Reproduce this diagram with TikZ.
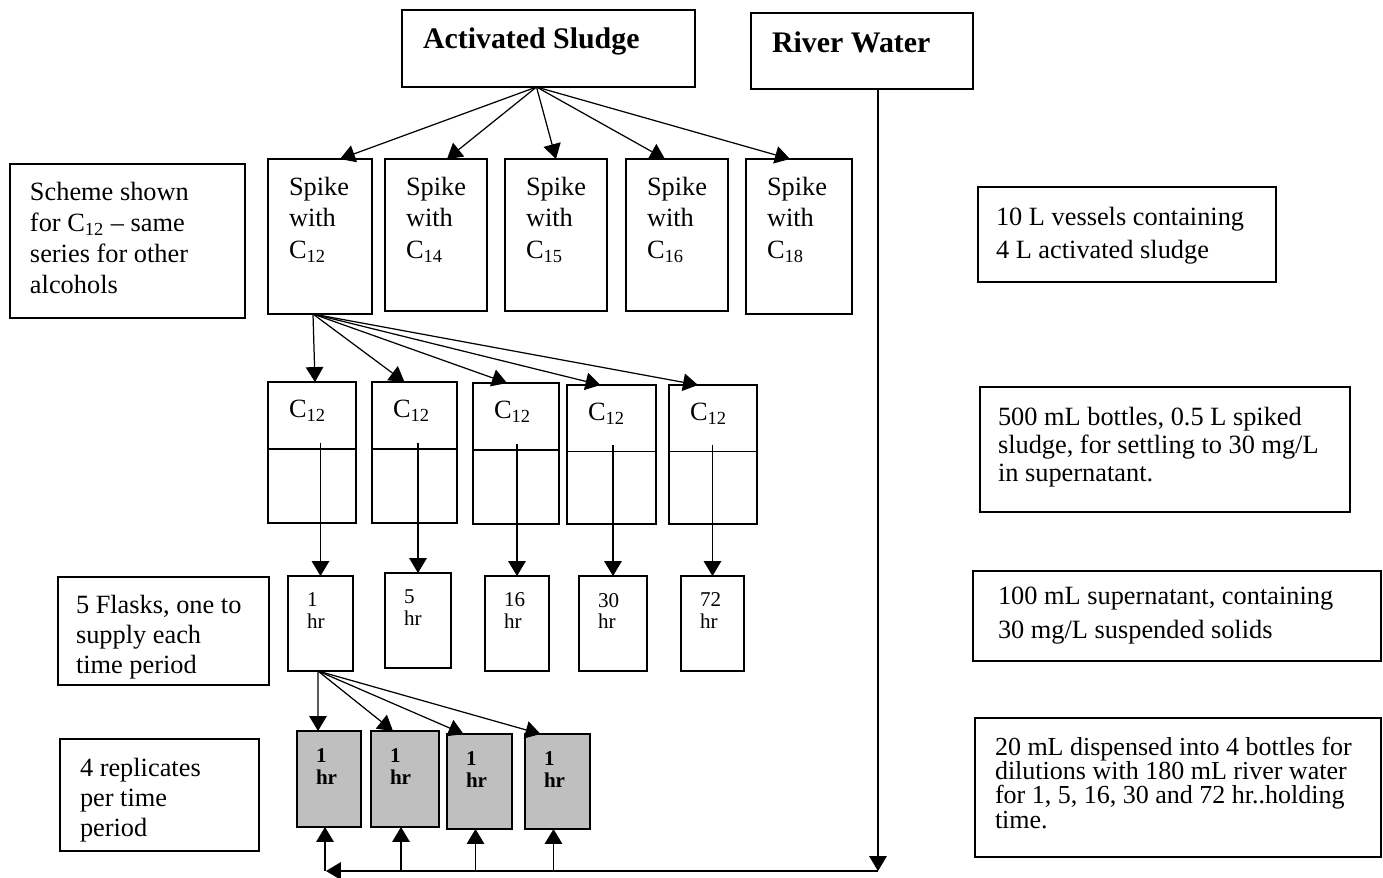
\documentclass[tikz,border=0pt]{standalone}
\usepackage{fontspec}
\setmainfont{Liberation Serif}
\usetikzlibrary{arrows.meta,calc}

\begin{document}
\begin{tikzpicture}
        [x=0.02cm, y=-0.02cm,
        every node/.style={inner sep=0pt, outer sep=0pt},
        box/.style 2 args={draw, rectangle, line width=0.8pt, anchor=north west,
                     minimum width=#1*0.02cm, minimum height=#2*0.02cm},
        rep/.style 2 args={box={#1}{#2}, fill=black!25, line width=1.3pt},
        lbl/.style={anchor=north west, align=left, font=\fontsize{15}{18}\selectfont},
        ttl/.style={anchor=north west, font=\fontsize{17}{20}\selectfont\bfseries},
        hrs/.style={anchor=north west, align=left, font=\fontsize{12}{12.5}\selectfont},
        arr/.style={-{Triangle[length=8.5pt,width=10pt]}, line width=0.7pt}]
        \useasboundingbox (0,0) rectangle (1383,877);
        % sources
        \node[box={293}{77}] (sludge) at (402,10) {};
        \node[ttl] (sludge-t) at ([shift={(21,18)}]sludge.north west) {Activated Sludge};
        \node[box={222}{76}] (river) at (751,13) {};
        \node[ttl] (river-t) at ([shift={(21,19)}]river.north west) {River Water};
        % spiked vessels
        \node[box={104}{155}] (c12) at (268,159) {};
        \node[box={102}{152}] (c14) at (385,159) {};
        \node[box={102}{152}] (c15) at (505,159) {};
        \node[box={102}{152}] (c16) at (626,159) {};
        \node[box={106}{155}] (c18) at (746,159) {};
        \foreach \n/\c in {c12/12,c14/14,c15/15,c16/16,c18/18}
            \node[lbl] (\n-t) at ([shift={(21,18)}]\n.north west) {Spike\\with\\C\textsubscript{\c}};
        % settling bottles
        \node[box={88}{141}] (b1) at (268,382) {};
        \node[box={85}{141}] (b2) at (372,382) {};
        \node[box={86}{141}] (b3) at (473,383) {};
        \node[box={89}{139}] (b4) at (567,385) {};
        \node[box={88}{139}] (b5) at (669,385) {};
        \foreach \i in {1,...,5}{
            \node[lbl] (b\i-t) at ([shift={(21,18)}]b\i.north west) {C\textsubscript{12}};
            \draw[line width=0.6pt] ($(b\i.north west)!0.475!(b\i.south west)$) -- ($(b\i.north east)!0.475!(b\i.south east)$);
            \coordinate (s\i) at ([yshift=0.2cm]b\i.center);
        }
        % flasks
        \node[box={65}{95}] (f1) at (288,576) {};
        \node[box={66}{95}] (f2) at (385,573) {};
        \node[box={64}{95}] (f3) at (485,576) {};
        \node[box={68}{95}] (f4) at (579,576) {};
        \node[box={63}{95}] (f5) at (681,576) {};
        \foreach \i/\h in {1/1,2/5,3/16,4/30,5/72}
            \node[hrs] (f\i-t) at ([shift={(19,17)}]f\i.north west) {\h\\hr};
        % replicates
        \node[rep={64}{96}] (r1) at (297,731) {};
        \node[rep={68}{96}] (r2) at (371,731) {};
        \node[rep={65}{95}] (r3) at (447,734) {};
        \node[rep={65}{95}] (r4) at (525,734) {};
        \foreach \i in {1,...,4}{
            \node[hrs, font=\fontsize{12}{12.5}\selectfont\bfseries] (r\i-t) at ([shift={(19,18)}]r\i.north west) {1\\hr};
            \coordinate (u\i) at ([xshift=-0.08cm]r\i.south);
        }
        % notes
        \node[box={235}{154}] (scheme) at (10,164) {};
        \node[lbl, font=\fontsize{15}{17.6}\selectfont] (scheme-t) at ([shift={(20,18)}]scheme.north west)
            {Scheme shown\\for C\textsubscript{12} -- same\\series for other\\alcohols};
        \node[box={298}{95}] (vessel) at (978,187) {};
        \node[lbl, font=\fontsize{15}{18.7}\selectfont] (vessel-t) at ([shift={(18,20)}]vessel.north west)
            {10 L vessels containing\\4 L activated sludge};
        \node[box={370}{125}] (settle) at (980,387) {};
        \node[lbl, font=\fontsize{15}{15.9}\selectfont] (settle-t) at ([shift={(18,20)}]settle.north west)
            {500 mL bottles, 0.5 L spiked\\sludge, for settling to 30 mg/L\\in supernatant.};
        \node[box={408}{90}] (super) at (973,571) {};
        \node[lbl, font=\fontsize{15}{19.5}\selectfont] (super-t) at ([shift={(25,16)}]super.north west)
            {100 mL supernatant, containing\\30 mg/L suspended solids};
        \node[box={406}{139}] (disp) at (975,718) {};
        \node[lbl, font=\fontsize{14.8}{13.8}\selectfont] (disp-t) at ([shift={(20,19)}]disp.north west)
            {20 mL dispensed into 4 bottles for\\dilutions with 180 mL river water\\for 1, 5, 16, 30 and 72 hr..holding\\time.};
        \node[box={211}{108}] (fnote) at (58,577) {};
        \node[lbl, font=\fontsize{15}{17}\selectfont] (fnote-t) at ([shift={(18,18)}]fnote.north west)
            {5 Flasks, one to\\supply each\\time period};
        \node[box={199}{112}] (rnote) at (60,739) {};
        \node[lbl, font=\fontsize{15}{17}\selectfont] (rnote-t) at ([shift={(20,19)}]rnote.north west)
            {4 replicates\\per time\\period};
        % connectors
        \foreach \n/\dx in {c12/20,c14/11,c15/0,c16/-12,c18/-9}
            \draw[arr] ([xshift=-0.24cm]sludge.south) -- ([xshift=\dx*0.02cm]\n.north);
        \foreach \i/\dx in {1/3,2/-10,3/-9,4/-11,5/-15}
            \draw[arr] ([xshift=-0.14cm]c12.south) -- ([xshift=\dx*0.02cm]b\i.north);
        \foreach \i in {1,...,5}
            \draw[arr] (f\i.north |- s\i) -- (f\i.north);
        \foreach \i/\dx in {1/-11,2/-12,3/-16,4/-17}
            \draw[arr] ([xshift=-0.05cm]f1.south) -- ([xshift=\dx*0.02cm]r\i.north);
        \coordinate (rwbot) at (878,871);
        \coordinate (rwleft) at (326,871);
        \draw[arr] (river.south -| rwbot) -- (rwbot);
        \draw[arr] (rwbot) -- (rwleft);
        \foreach \i in {1,...,4}
            \draw[arr] (u\i |- rwleft) -- (u\i);
\end{tikzpicture}
\end{document}
